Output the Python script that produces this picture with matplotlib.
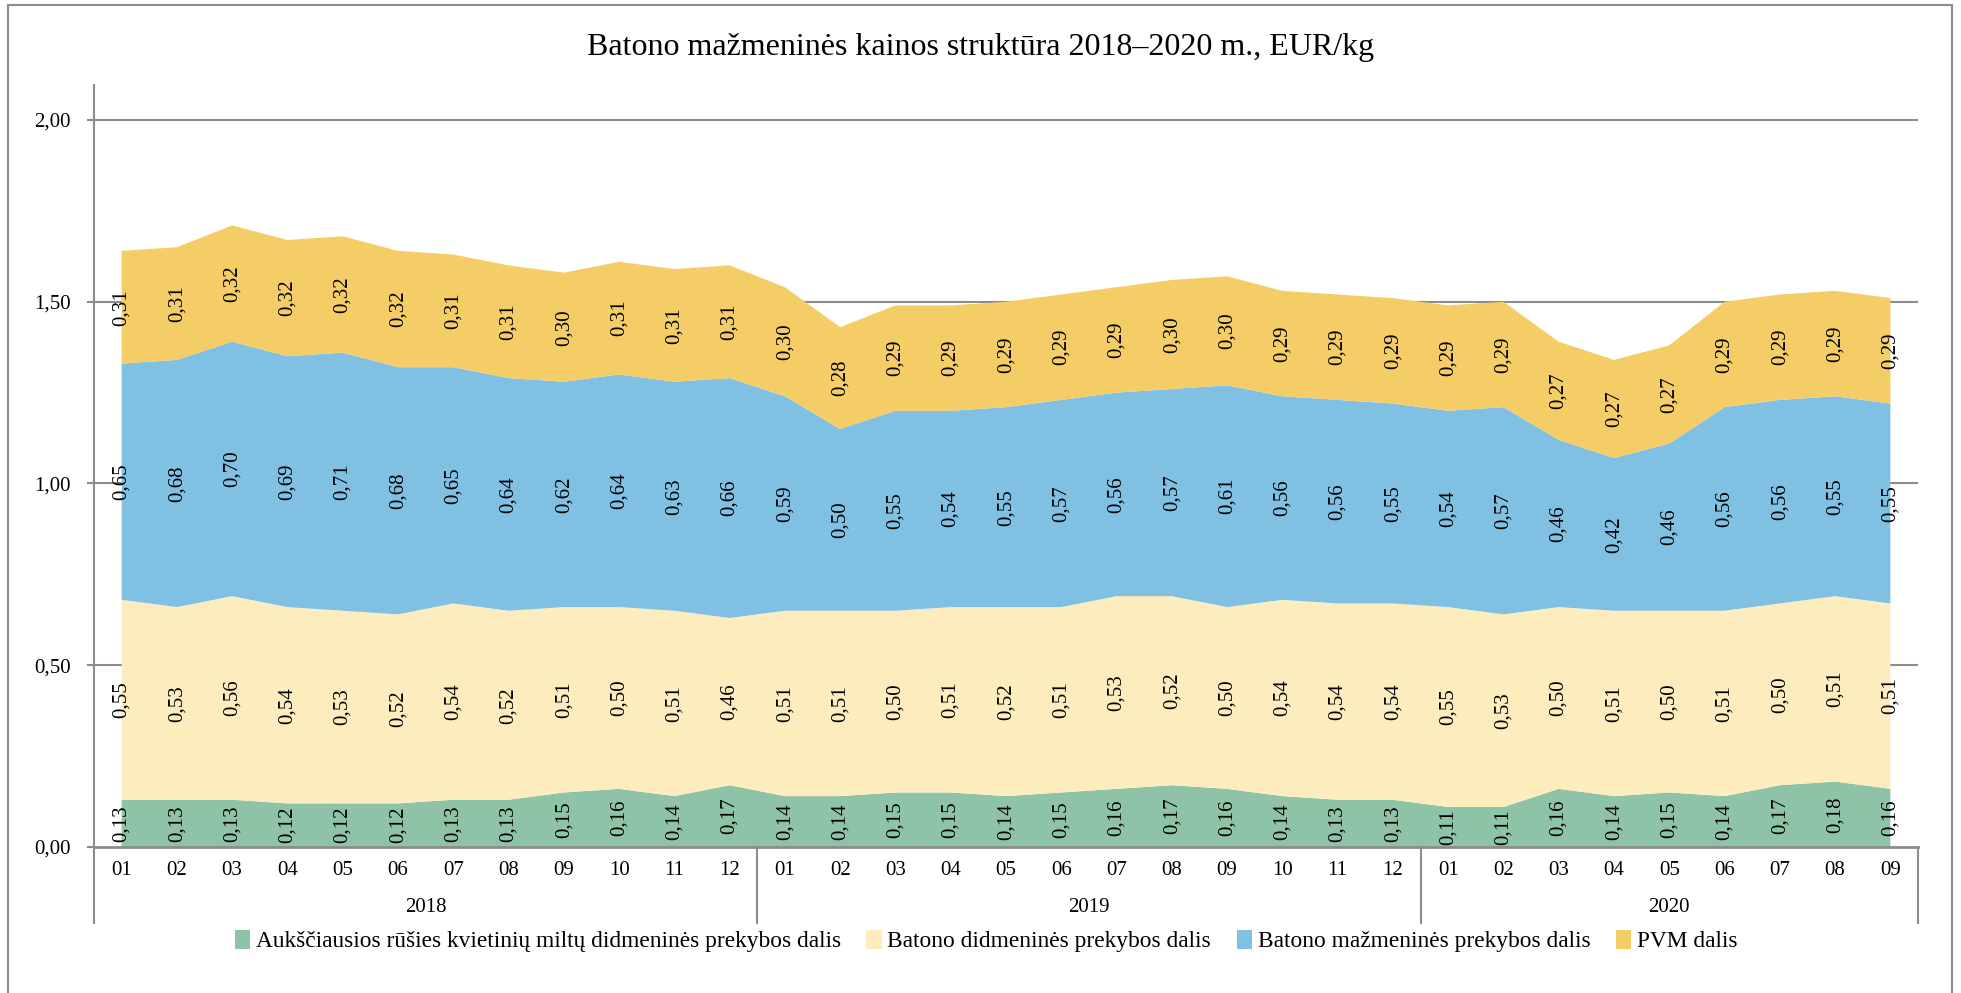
import matplotlib
matplotlib.use("Agg")
import matplotlib.pyplot as plt
import matplotlib.transforms as mtransforms
from matplotlib.patches import Rectangle, Patch
import numpy as np

plt.rcParams['font.family'] = ['Liberation Serif', 'DejaVu Serif']

months = ["01","02","03","04","05","06","07","08","09","10","11","12",
          "01","02","03","04","05","06","07","08","09","10","11","12",
          "01","02","03","04","05","06","07","08","09"]
years = ["2018", "2019", "2020"]
year_counts = [12, 12, 9]

series_names = ["Aukščiausios rūšies kvietinių miltų didmeninės prekybos dalis",
                "Batono didmeninės prekybos dalis",
                "Batono mažmeninės prekybos dalis",
                "PVM dalis"]

miltai = [0.13,0.13,0.13,0.12,0.12,0.12,0.13,0.13,0.15,0.16,0.14,0.17,
          0.14,0.14,0.15,0.15,0.14,0.15,0.16,0.17,0.16,0.14,0.13,0.13,
          0.11,0.11,0.16,0.14,0.15,0.14,0.17,0.18,0.16]
didmenine = [0.55,0.53,0.56,0.54,0.53,0.52,0.54,0.52,0.51,0.50,0.51,0.46,
             0.51,0.51,0.50,0.51,0.52,0.51,0.53,0.52,0.50,0.54,0.54,0.54,
             0.55,0.53,0.50,0.51,0.50,0.51,0.50,0.51,0.51]
mazmenine = [0.65,0.68,0.70,0.69,0.71,0.68,0.65,0.64,0.62,0.64,0.63,0.66,
             0.59,0.50,0.55,0.54,0.55,0.57,0.56,0.57,0.61,0.56,0.56,0.55,
             0.54,0.57,0.46,0.42,0.46,0.56,0.56,0.55,0.55]
pvm = [0.31,0.31,0.32,0.32,0.32,0.32,0.31,0.31,0.30,0.31,0.31,0.31,
       0.30,0.28,0.29,0.29,0.29,0.29,0.29,0.30,0.30,0.29,0.29,0.29,
       0.29,0.29,0.27,0.27,0.27,0.29,0.29,0.29,0.29]

colors = ["#8FC3A8", "#FDEDBE", "#7FC0E3", "#F5CD66"]
grid_color = "#8C8C8C"

W, H = 1961, 993
fig = plt.figure(figsize=(W/100, H/100), dpi=100)

# outer frame
fig.patches.append(Rectangle((8/W, -0.02), (1952-8)/W, (1+0.02) - 5/H,
                             transform=fig.transFigure, fill=False,
                             edgecolor="#8C8C8C", linewidth=1.5))

ax_left, ax_right, ax_top, ax_bot = 94, 1918, 85, 847
ax = fig.add_axes([ax_left/W, (H-ax_bot)/H, (ax_right-ax_left)/W, (ax_bot-ax_top)/H])

x = np.arange(len(months))
data = [np.array(miltai), np.array(didmenine), np.array(mazmenine), np.array(pvm)]
ax.stackplot(x, *data, colors=colors, labels=series_names, linewidth=0, zorder=2)

ymax_val = 2.0 + (120 - ax_top) / ((ax_bot - 120) / 2.0)
ax.set_xlim(-0.5, len(months) - 0.5)
ax.set_ylim(0, ymax_val)
ax.set_yticks([0, 0.5, 1.0, 1.5, 2.0])
ax.set_yticklabels([f"{v:.2f}".replace('.', ',') for v in [0, 0.5, 1.0, 1.5, 2.0]], fontsize=15)
for v in [0.5, 1.0, 1.5, 2.0]:
    ax.axhline(v, color=grid_color, linewidth=1.5, zorder=1)

for s in ['top', 'right']:
    ax.spines[s].set_visible(False)
ax.spines['left'].set_color(grid_color)
ax.spines['left'].set_linewidth(1.5)
ax.spines['bottom'].set_color(grid_color)
ax.spines['bottom'].set_linewidth(2.0)
ax.spines['bottom'].set_zorder(3)
ax.tick_params(axis='y', length=5, width=1.5, color=grid_color, pad=12)
ax.set_xticks(x)
ax.set_xticklabels(months, fontsize=15)
ax.tick_params(axis='x', length=0, pad=10)

# data labels
bottom = np.zeros(len(months))
for arr in data:
    for i, v in enumerate(arr):
        ax.text(i, bottom[i] + v/2, f"{v:.2f}".replace('.', ','), rotation=90,
                ha='center', va='center', fontsize=15, zorder=4)
    bottom = bottom + arr

# year labels and separators
axh = ax_bot - ax_top
trans = mtransforms.blended_transform_factory(ax.transData, ax.transAxes)
sep_bottom = -(923 - ax_bot) / axh
start = 0
seps = [-0.5]
for yr, cnt in zip(years, year_counts):
    center = start + (cnt - 1) / 2
    ax.text(center, -(907 - ax_bot) / axh, yr, transform=trans, ha='center',
            va='center', fontsize=15)
    start += cnt
    seps.append(start - 0.5)
for sx in seps:
    ax.plot([sx, sx], [0, sep_bottom], transform=trans, color=grid_color,
            linewidth=1.5, clip_on=False)

fig.text(0.5, 1 - 48/H, "Batono mažmeninės kainos struktūra 2018–2020 m., EUR/kg",
         ha='center', va='center', fontsize=23)

handles = [Patch(facecolor=c, edgecolor='none') for c in colors]
fig.legend(handles, series_names, loc='center', bbox_to_anchor=(986/W, 1 - 941/H),
           ncol=4, frameon=False, fontsize=16.8, handlelength=0.65, handleheight=0.9,
           handletextpad=0.25, columnspacing=1.1)

fig.savefig("out.png", dpi=100)
